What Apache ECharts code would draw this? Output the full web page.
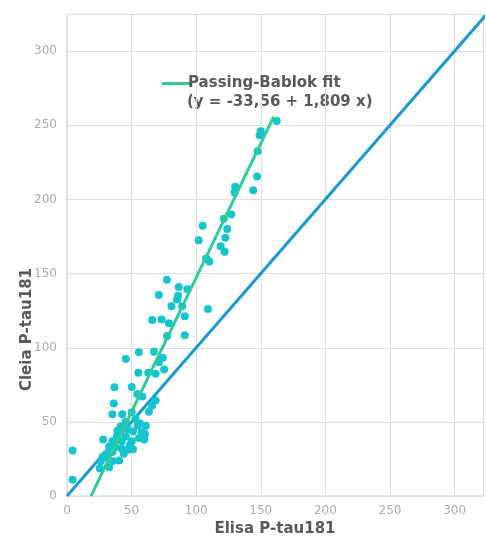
<!DOCTYPE html>
<html>
<head>
<meta charset="utf-8">
<title>Cleia vs Elisa P-tau181</title>
<script src="https://cdn.jsdelivr.net/npm/echarts@6/dist/echarts.min.js"></script>
<style>
  html, body { margin: 0; padding: 0; background: #ffffff; }
  #chart { width: 486px; height: 542px; }
</style>
</head>
<body>
<div id="chart"></div>
<script>
// Paired measurements: Elisa P-tau181 (x) vs Cleia P-tau181 (y)
const elisaValues = [
  65.9, 73.2, 78.8, 91.2, 77.5, 91.2, 55.7, 45.5, 67.3, 74.2,
  71.1, 75.2, 55.2, 62.9, 68.6, 36.7, 50.1, 54.4, 58.2, 68.6,
  36.2, 65.9, 63.4, 35.1, 42.8, 50.1, 53.2, 45.5, 54.7, 39.0,
  51.1, 57.8, 60.3, 45.5, 55.7, 59.8, 28.0, 35.1, 42.4, 50.1,
  32.6, 48.5, 42.4, 51.1, 4.3, 35.1, 47.5, 27.4, 31.3, 40.3,
  26.2, 35.1, 32.6, 25.4, 4.3,
  77.4, 86.5, 93.2, 71.1, 86.0, 85.2, 80.9, 89.1, 109.1, 107.6,
  105.0, 121.4, 124.0, 101.9, 122.5, 118.9, 122.0, 108.1, 110.2,
  162.3, 150.0, 149.0, 147.6, 147.1, 144.1, 130.2, 129.7, 127.1,
  41.5, 44.0, 38.5, 47.0, 56.5, 30.0, 37.5, 61.0
];
const cleiaValues = [
  118.7, 119.1, 116.5, 121.3, 108.0, 108.5, 96.9, 92.5, 97.3, 93.3,
  90.2, 85.3, 83.1, 83.1, 82.5, 73.3, 73.5, 68.9, 67.1, 64.5,
  62.5, 60.9, 56.9, 55.1, 55.1, 56.5, 52.0, 50.2, 47.5, 44.0,
  43.5, 43.1, 41.8, 40.2, 39.1, 38.2, 38.2, 36.9, 36.9, 36.9,
  33.5, 34.2, 32.0, 31.5, 30.7, 29.8, 31.3, 26.2, 25.8, 24.0,
  23.5, 23.5, 19.5, 18.7, 11.1,
  145.8, 140.9, 139.5, 135.5, 135.1, 132.5, 128.0, 128.0, 126.2, 160.0,
  182.2, 186.9, 180.0, 172.5, 174.2, 168.5, 164.7, 160.0, 158.2,
  252.9, 246.0, 243.3, 232.5, 215.5, 206.2, 208.5, 204.7, 189.8,
  47.0, 28.5, 40.0, 45.0, 49.0, 28.0, 33.0, 47.5
];

// Passing-Bablok regression: y = -33.56 + 1.809 x
const fitIntercept = -33.56;
const fitSlope = 1.809;
const fitRange = [18.55, 160];

// Line of identity y = x
const identityRange = [0, 325];

// Axis ticks
const tickStep = 50;
const xMax = 322;
const yMax = 325;

const points = elisaValues.map((x, i) => [x, cleiaValues[i]]);
const fitLine = fitRange.map(x => [x, fitIntercept + fitSlope * x]);
const identityLine = identityRange.map(v => [v, v]);

const FONT = '"DejaVu Sans", "Noto Sans", sans-serif';
const GRID_COLOR = '#dedede';
const TEXT_DARK = '#595959';
const TEXT_LIGHT = '#aaaaaa';

const chart = echarts.init(document.getElementById('chart'), null, { renderer: 'canvas' });

const tickFormatter = v => (v % tickStep === 0 ? String(v) : '');

chart.setOption({
  backgroundColor: '#ffffff',
  animation: false,
  textStyle: { fontFamily: FONT },
  grid: { left: 67, top: 14, right: 0, bottom: 40, containLabel: false },
  legend: {
    data: ['Passing-Bablok fit'],
    left: 157,
    top: 71,
    icon: 'rect',
    itemWidth: 28,
    itemHeight: 3,
    itemGap: 0,
    selectedMode: false,
    textStyle: { color: TEXT_DARK, fontSize: 15, fontWeight: 'bold', fontFamily: FONT, padding: [0, 0, 0, -7] }
  },
  graphic: [
    {
      type: 'text',
      left: 187,
      top: 95,
      style: {
        text: '(y = -33,56 + 1,809 x)',
        fill: TEXT_DARK,
        font: 'bold 15px ' + FONT
      }
    },
    {
      type: 'text',
      left: 20,
      top: 268,
      rotation: Math.PI / 2,
      style: {
        text: 'Cleia P-tau181',
        fill: TEXT_DARK,
        font: 'bold 15px ' + FONT,
        align: 'center',
        verticalAlign: 'middle'
      }
    }
  ],
  xAxis: {
    type: 'value',
    min: 0,
    max: xMax,
    interval: tickStep,
    name: 'Elisa P-tau181',
    nameLocation: 'middle',
    nameGap: 24,
    nameTextStyle: { color: TEXT_DARK, fontSize: 15, fontWeight: 'bold', fontFamily: FONT },
    axisLine: { show: true, lineStyle: { color: GRID_COLOR, width: 1.5 } },
    axisTick: { show: false },
    axisLabel: { color: TEXT_LIGHT, fontSize: 12, margin: 9, formatter: tickFormatter },
    splitLine: { show: true, lineStyle: { color: GRID_COLOR, width: 1.2 } }
  },
  yAxis: {
    type: 'value',
    min: 0,
    max: yMax,
    interval: tickStep,
    axisLine: { show: true, lineStyle: { color: GRID_COLOR, width: 1.5 } },
    axisTick: { show: false },
    axisLabel: { color: TEXT_LIGHT, fontSize: 12, margin: 10, formatter: tickFormatter },
    splitLine: { show: true, lineStyle: { color: GRID_COLOR, width: 1.2 } }
  },
  series: [
    {
      name: 'Identity',
      type: 'line',
      data: identityLine,
      showSymbol: false,
      clip: true,
      lineStyle: { color: '#1a9ad3', width: 3 },
      z: 2
    },
    {
      name: 'Samples',
      type: 'scatter',
      data: points,
      symbolSize: 8,
      itemStyle: { color: '#15c5ce', opacity: 1 },
      z: 3
    },
    {
      name: 'Passing-Bablok fit',
      type: 'line',
      data: fitLine,
      showSymbol: false,
      clip: true,
      color: '#2ccb97',
      lineStyle: { color: '#2ccb97', width: 3 },
      z: 4
    }
  ]
});
</script>
</body>
</html>
